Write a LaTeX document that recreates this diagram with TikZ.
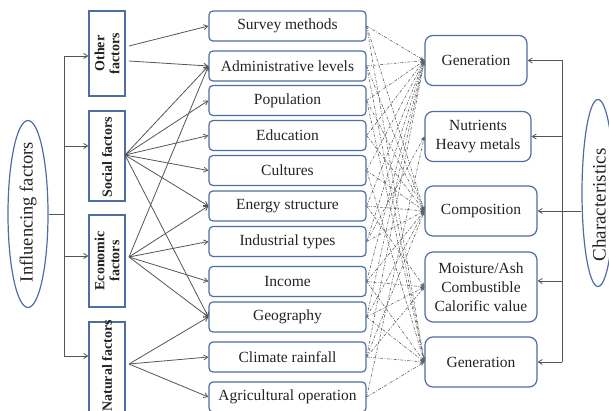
\documentclass[tikz,border=0pt]{standalone}
\usepackage{fontspec}
\setmainfont{Liberation Serif}
\usetikzlibrary{arrows.meta,shapes.geometric}
\definecolor{bx}{RGB}{79,110,160}
\definecolor{ln}{RGB}{85,85,85}
\definecolor{tx}{RGB}{35,35,35}
\definecolor{dl}{RGB}{100,100,100}
\begin{document}
\begin{tikzpicture}[x=1pt,y=-1pt,
  mid/.style={draw=bx, line width=1.2pt, rounded corners=4pt, minimum width=157pt, minimum height=30pt, inner sep=0pt, font=\fontsize{15.5}{19}\selectfont, text=tx},
  chr/.style={draw=bx, line width=1.2pt, rounded corners=8pt, minimum height=50pt, inner sep=0pt, align=center, font=\fontsize{15.5}{19}\selectfont, text=tx},
  fbox/.style={draw=bx, line width=1.2pt, minimum width=36pt, inner sep=0pt},
  ftext/.style={rotate=90, font=\bfseries\fontsize{14}{15}\selectfont, align=center, text=tx, inner sep=0pt},
  ell/.style={draw=bx, line width=1.2pt, ellipse, inner sep=0pt},
  etext/.style={rotate=90, text=tx, inner sep=0pt},
  sarr/.style={draw=ln, line width=0.8pt, -{Straight Barb[length=4pt,width=5pt]}},
  tline/.style={draw=ln, line width=0.8pt},
  dd/.style={draw=dl, line width=0.6pt, dash pattern=on 3pt off 1.5pt on 0.8pt off 1.5pt, -{Stealth[length=4.5pt,width=3.5pt]}}
]
\useasboundingbox (0,0) rectangle (609,411);

% left ellipse
\node[ell, minimum width=40pt, minimum height=187pt] (inf) at (28,214) {};
\node[etext, font=\fontsize{18.5}{20}\selectfont] (inft) at (28,212) {Influencing factors};

% factor boxes
\node[fbox, minimum height=85pt] (other) at (107,53.5) {};
\node[ftext] (othert) at (107,53.5) {Other\\factors};
\node[fbox, minimum height=90pt] (social) at (107,156) {};
\node[ftext] (socialt) at (107,157) {Social factors};
\node[fbox, minimum height=92pt] (econ) at (107,261) {};
\node[ftext] (econt) at (107,261) {Economic\\factors};
\node[fbox, minimum height=90pt] (nat) at (107,367) {};
\node[ftext] (natt) at (107,366) {Natural factors};

% middle boxes
\node[mid] (survey) at (287.5,26) {Survey methods};
\node[mid] (admin) at (287.5,66) {Administrative levels};
\node[mid] (pop) at (287.5,100.5) {Population};
\node[mid] (edu) at (287.5,135.5) {Education};
\node[mid] (cult) at (287.5,170.5) {Cultures};
\node[mid] (energy) at (287.5,206) {Energy structure};
\node[mid] (indus) at (287.5,241.5) {Industrial types};
\node[mid] (income) at (287.5,281.5) {Income};
\node[mid] (geo) at (287.5,317) {Geography};
\node[mid] (clim) at (287.5,357) {Climate rainfall};
\node[mid] (agri) at (287.5,397) {Agricultural operation};

% right boxes
\node[chr, minimum width=102pt] (gen1) at (476,60.5) {Generation};
\node[chr, minimum width=106pt] (nutr) at (478,136.5) {Nutrients\\Heavy metals};
\node[chr, minimum width=112pt] (comp) at (481,211) {Composition};
\node[chr, minimum width=112pt, minimum height=70pt] (moist) at (481,287) {Moisture/Ash\\Combustible\\Calorific value};
\node[chr, minimum width=112pt] (gen2) at (481,362) {Generation};

% right ellipse
\node[ell, minimum width=32pt, minimum height=187pt] (char) at (598,193) {};
\node[etext, font=\fontsize{19}{20}\selectfont] (chart) at (599,205) {Characteristics};

% left trunk
\coordinate (lt0) at (64,214);
\coordinate (lt1) at (64,56);
\coordinate (lt2) at (64,146);
\coordinate (lt3) at (64,256);
\coordinate (lt4) at (64,356);
\draw[tline] (inf.east) -- (lt0);
\draw[tline] (lt1) -- (lt4);
\draw[sarr] (lt1) -- (lt1 -| other.west);
\draw[sarr] (lt2) -- (lt2 -| social.west);
\draw[sarr] (lt3) -- (lt3 -| econ.west);
\draw[sarr] (lt4) -- (lt4 -| nat.west);

% right trunk
\coordinate (rt1) at (562,60.5);
\coordinate (rt2) at (562,136.5);
\coordinate (rt3) at (562,211);
\coordinate (rt4) at (562,281);
\coordinate (rt5) at (562,362);
\draw[tline] (rt1) -- (rt5);
\draw[tline] (rt3) -- (rt3 -| char.west);
\draw[sarr] (rt1) -- (gen1.east);
\draw[sarr] (rt2) -- (nutr.east);
\draw[sarr] (rt3) -- (comp.east);
\draw[sarr] (rt4) -- (rt4 -| moist.east);
\draw[sarr] (rt5) -- (gen2.east);

% solid arrows from factors
\coordinate (o1) at (129,46);
\coordinate (o2) at (129,61);
\coordinate (s0) at (125,155);
\coordinate (e0) at (129,257);
\coordinate (n0) at (129,364);
\draw[sarr] (o1) -- (survey.west);
\draw[sarr] (o2) -- (admin.west);
\foreach \t in {admin,pop,edu,cult,energy,geo} \draw[sarr] (s0) -- (\t.west);
\foreach \t in {admin,energy,indus,income,geo} \draw[sarr] (e0) -- (\t.west);
\foreach \t in {geo,clim,agri} \draw[sarr] (n0) -- (\t.west);

% dashed connectors
\foreach \a in {survey,admin,pop,edu,cult,energy,indus,income,geo,clim} \draw[dd] (\a.east) -- (gen1.west);
\foreach \a in {indus,agri} \draw[dd] (\a.east) -- (nutr.west);
\foreach \a in {survey,admin,pop,edu,cult,energy,indus,income,geo,clim} \draw[dd] (\a.east) -- (comp.west);
\foreach \a in {energy,income,geo,clim} \draw[dd] (\a.east) -- (moist.west);
\foreach \a in {survey,admin,pop,cult,income,geo,clim,agri} \draw[dd] (\a.east) -- (gen2.west);
\end{tikzpicture}
\end{document}
